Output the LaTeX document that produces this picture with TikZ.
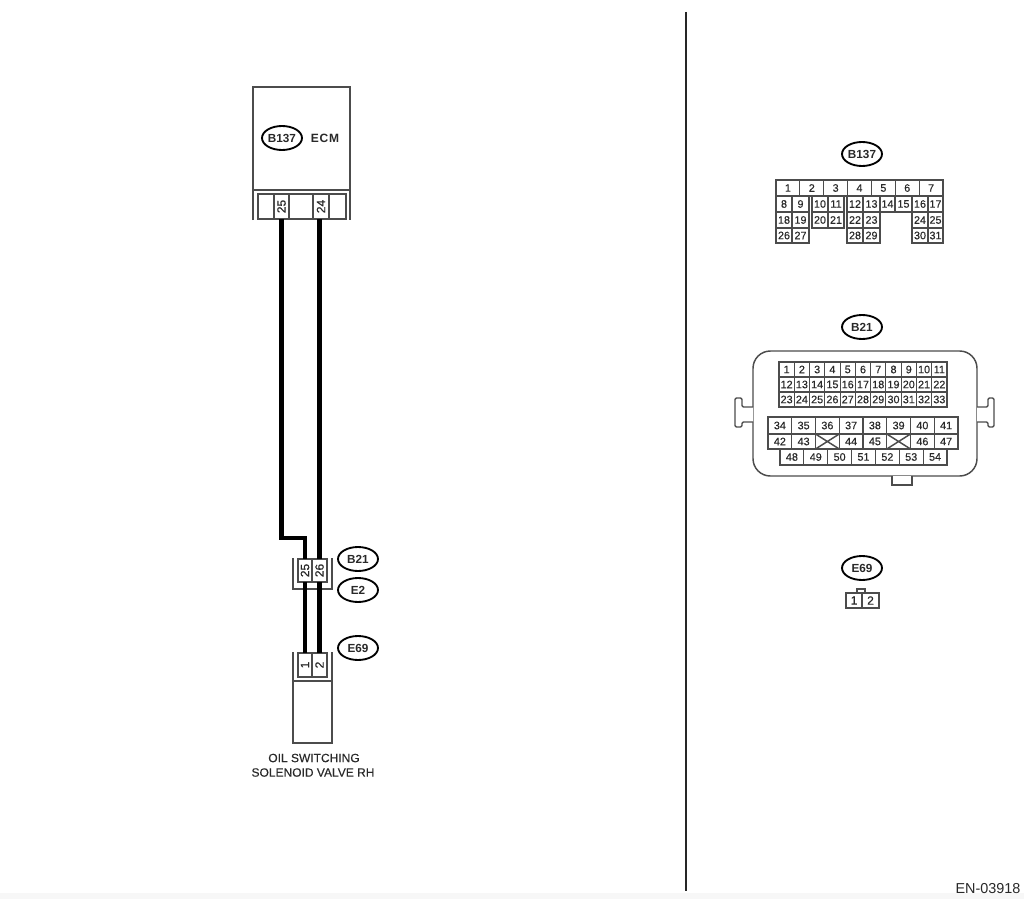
\documentclass[tikz,border=0pt]{standalone}
\usepackage{fontspec}
\setmainfont{Liberation Sans}
\newfontfamily\semifont[FakeBold=0.25]{Liberation Sans}
\newfontfamily\pinfont[FakeBold=0.6]{Liberation Sans}
\newcommand{\pinlabel}[1]{\rotatebox{90}{\pinfont\fontsize{9}{9}\selectfont #1}}
\usetikzlibrary{shapes.geometric}
\definecolor{ink}{gray}{0.16}
\definecolor{thin}{gray}{0.3}
\tikzset{
  cellbox/.style={draw=thin,line width=0.85pt,rectangle,inner sep=0pt,outer sep=0pt,text=ink,font=\semifont\fontsize{8.1}{8}\selectfont},
  tag/.style={draw=black,line width=1.4pt,ellipse,inner sep=0pt,outer sep=0pt,minimum width=30pt,minimum height=18pt,text=ink,font=\fontsize{8.8}{10}\bfseries\selectfont},
  frame/.style={draw=thin,line width=1.1pt},
  wire/.style={draw=black,line width=3.4pt,line join=miter},
  caption/.style={text=ink,inner sep=0pt,font=\semifont\fontsize{9}{10}\selectfont},
  ruleline/.style={draw=black!85,line width=1.5pt}
}
\newcommand{\cellat}[6]{%
  \pgfmathsetmacro{\cw}{(#4-#2)*0.75}%
  \pgfmathsetmacro{\ch}{(#5-#3)*0.75}%
  \pgfmathsetmacro{\cx}{(#2+#4)/2}%
  \pgfmathsetmacro{\cy}{(#3+#5)/2}%
  \node[cellbox,minimum width=\cw pt,minimum height=\ch pt] (#1) at (\cx,\cy) {#6};%
}
\begin{document}
\begin{tikzpicture}[x=0.75pt,y=-0.75pt]
\useasboundingbox (0,0) rectangle (1024,899);
\fill[white] (0,0) rectangle (1024,899);
\fill[black!3] (0,893) rectangle (1024,899);

% divider
\coordinate (ruletop) at (686,12);
\coordinate (rulebot) at (686,891);
\draw[ruleline] (ruletop) -- (rulebot);

% ECM
\draw[frame] (253,220) -- (253,87) -- (350,87) -- (350,220);
\draw[frame] (253,190) -- (350,190);
\node[tag] (ecmtag) at (282,138) {B137};
\node[caption,font=\fontsize{9}{10}\bfseries\selectfont] (ecmname) at (325,138) {\addfontfeature{LetterSpace=6}ECM};
\cellat{ecma}{258}{194}{274}{219}{}
\cellat{p25}{274}{194}{289}{219}{\pinlabel{25}}
\cellat{ecmb}{289}{194}{313}{219}{}
\cellat{p24}{313}{194}{329}{219}{\pinlabel{24}}
\cellat{ecmc}{329}{194}{346}{219}{}

% B21/E2 joint
\draw[frame] (293,558) -- (293,589) -- (332,589) -- (332,558);
\cellat{b25}{298}{559}{312}{582}{\pinlabel{25}}
\cellat{b26}{312}{559}{327}{582}{\pinlabel{26}}
\node[tag] (b21tag) at (358,559) {B21};
\node[tag] (e2tag) at (358,590) {E2};

% E69 valve
\draw[frame] (293,652) -- (293,743) -- (332,743) -- (332,652);
\draw[frame] (293,681) -- (332,681);
\cellat{e1}{298}{653}{312}{677}{\pinlabel{1}}
\cellat{e2}{312}{653}{327}{677}{\pinlabel{2}}
\node[tag] (e69tag) at (358,648) {E69};
\node[caption] (valve1) at (314,758) {OIL SWITCHING};
\node[caption] (valve2) at (313,772.5) {SOLENOID VALVE RH};

% wires
\coordinate (bend) at (305,538);
\draw[wire] (p25.south) |- (bend) -- (b25.north);
\draw[wire] (b26.north |- p24.south) -- (b26.north);
\draw[wire] (b25.south) -- (e1.north);
\draw[wire] (b26.south) -- (e2.north);

% connector B137
\node[tag] (tagb137) at (862,154) {B137};
\foreach \i in {1,...,7} {
  \pgfmathsetmacro{\xa}{776+(\i-1)*23.857}
  \pgfmathsetmacro{\xb}{776+\i*23.857}
  \cellat{ka\i}{\xa}{180}{\xb}{196}{\i}
}
\foreach \n/\xa/\xb in {8/776/792,9/792/809,10/812/828,11/828/844,12/847/863,13/863/880,14/880/895,15/895/912,16/912/928,17/928/943}
  {\cellat{ka\n}{\xa}{196}{\xb}{212}{\n}}
\foreach \n/\xa/\xb in {18/776/792,19/792/809,20/812/828,21/828/844,22/847/863,23/863/880,24/912/928,25/928/943}
  {\cellat{ka\n}{\xa}{212}{\xb}{228}{\n}}
\foreach \n/\xa/\xb in {26/776/792,27/792/809,28/847/863,29/863/880,30/912/928,31/928/943}
  {\cellat{ka\n}{\xa}{228}{\xb}{243}{\n}}

% connector B21
\node[tag] (tagb21) at (862,327) {B21};
\draw[frame,rounded corners=13pt] (753,351) rectangle (977,476);
\draw[frame,fill=white] (892,476) -- (892,485) -- (912,485) -- (912,476);
\draw[frame,fill=white,rounded corners=1pt] (753,407) -- (742,407) -- (742,398) -- (735,398) -- (735,427) -- (742,427) -- (742,422) -- (753,422);
\draw[frame,fill=white,rounded corners=1pt] (977,407) -- (988,407) -- (988,398) -- (994,398) -- (994,427) -- (988,427) -- (988,422) -- (977,422);
\foreach \i in {1,...,11} {
  \pgfmathsetmacro{\xa}{779+(\i-1)*15.27}
  \pgfmathsetmacro{\xb}{779+\i*15.27}
  \pgfmathtruncatemacro{\nb}{\i+11}
  \pgfmathtruncatemacro{\nc}{\i+22}
  \cellat{kb\i}{\xa}{362}{\xb}{377}{\i}
  \cellat{kb\nb}{\xa}{377}{\xb}{392}{\nb}
  \cellat{kb\nc}{\xa}{392}{\xb}{407}{\nc}
}
\foreach \i/\u/\d in {1/34/42,2/35/43,3/36/,4/37/44,5/38/45,6/39/,7/40/46,8/41/47} {
  \pgfmathsetmacro{\xa}{768+(\i-1)*23.75}
  \pgfmathsetmacro{\xb}{768+\i*23.75}
  \cellat{kb\u}{\xa}{417}{\xb}{434}{\u}
  \cellat{kc\i}{\xa}{434}{\xb}{449}{\d}
}
\draw[frame] (kc3.north west) -- (kc3.south east) (kc3.north east) -- (kc3.south west);
\draw[frame] (kc6.north west) -- (kc6.south east) (kc6.north east) -- (kc6.south west);
\foreach \i in {1,...,7} {
  \pgfmathsetmacro{\xa}{780+(\i-1)*23.857}
  \pgfmathsetmacro{\xb}{780+\i*23.857}
  \pgfmathtruncatemacro{\nn}{\i+47}
  \cellat{kb\nn}{\xa}{449}{\xb}{465}{\nn}
}

% connector E69
\node[tag] (tage69) at (862,568) {E69};
\draw[frame] (857,593) -- (857,589) -- (865,589) -- (865,593);
\cellat{kd1}{846}{593}{862}{608}{\fontsize{9}{9}\selectfont 1}
\cellat{kd2}{862}{593}{879}{608}{\fontsize{9}{9}\selectfont 2}

\node[caption,font=\fontsize{10.8}{12}\selectfont] (code) at (988,889) {EN-03918};
\end{tikzpicture}
\end{document}
